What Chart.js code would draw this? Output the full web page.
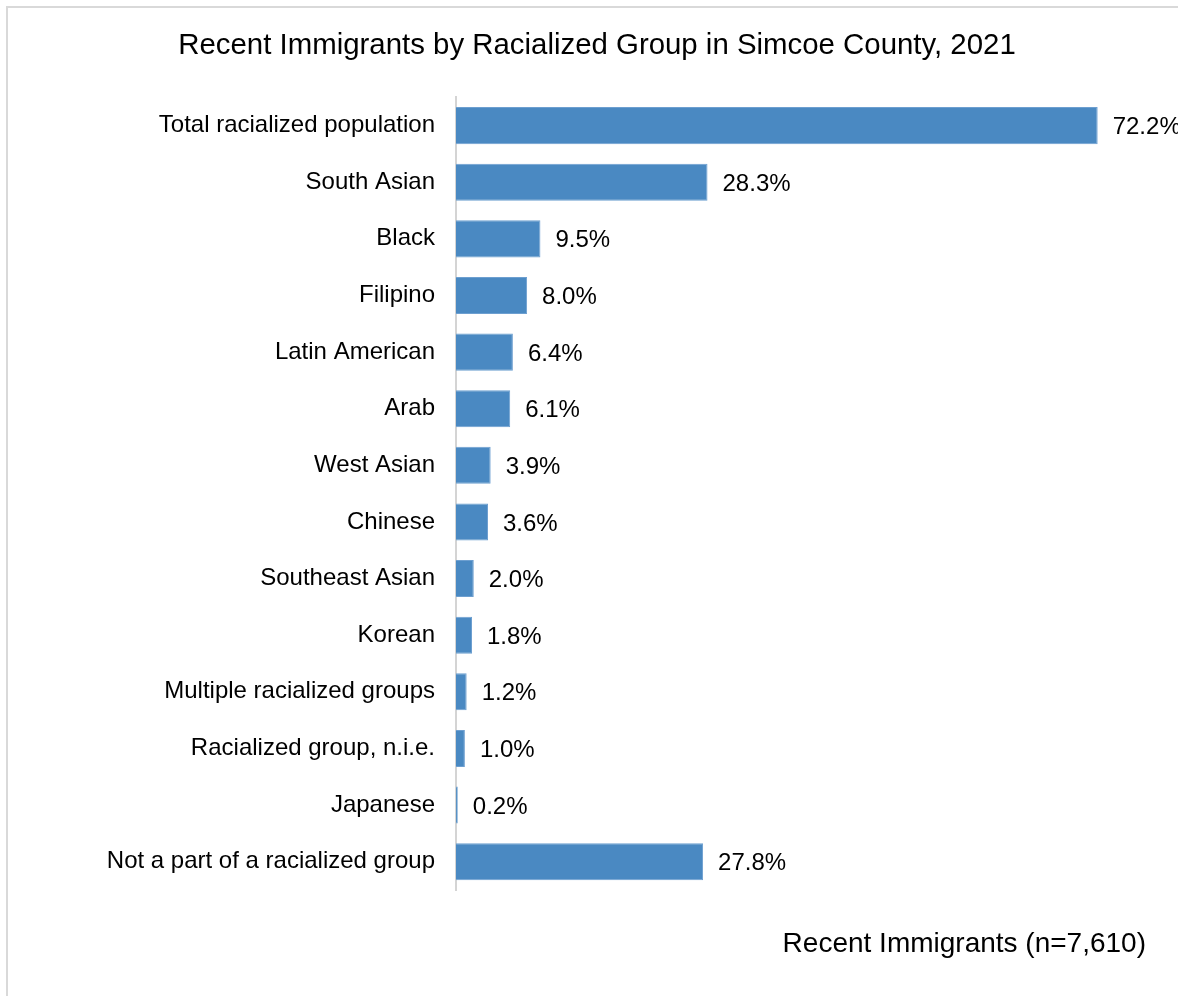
<!DOCTYPE html>
<html>
<head>
<meta charset="utf-8">
<title>Recent Immigrants by Racialized Group</title>
<script src="https://cdn.jsdelivr.net/npm/chart.js@4/dist/chart.umd.min.js"></script>
<style>
	html, body { margin: 0; padding: 0; background: #fff; overflow: hidden; }
	.chart-wrap { position: relative; width: 1178px; height: 996px; }
	.frame { position: absolute; left: 6px; top: 6px; width: 1300px; height: 1200px; border: 2px solid #d9d9d9; pointer-events: none; }
</style>
</head>
<body>
<div class="chart-wrap">
	<canvas id="myChart"></canvas>
	<div class="frame"></div>
</div>
<script>
const groups = [
	'Total racialized population',
	'South Asian',
	'Black',
	'Filipino',
	'Latin American',
	'Arab',
	'West Asian',
	'Chinese',
	'Southeast Asian',
	'Korean',
	'Multiple racialized groups',
	'Racialized group, n.i.e.',
	'Japanese',
	'Not a part of a racialized group',
];
const shares = [72.2, 28.3, 9.5, 8.0, 6.4, 6.1, 3.9, 3.6, 2.0, 1.8, 1.2, 1.0, 0.2, 27.8];
const seriesName = 'Recent Immigrants (n=7,610)';
const chartTitle = 'Recent Immigrants by Racialized Group in Simcoe County, 2021';

const fontFamily = "'Liberation Sans', Arial, sans-serif";

// value labels at the end of each bar
const barValues = {
	id: 'barValues',
	afterDatasetsDraw(chart) {
		const ctx = chart.ctx;
		const meta = chart.getDatasetMeta(0);
		ctx.save();
		ctx.font = `24px ${fontFamily}`;
		ctx.fillStyle = '#000';
		ctx.textAlign = 'left';
		ctx.textBaseline = 'middle';
		meta.data.forEach((bar, i) => {
			ctx.fillText(shares[i].toFixed(1) + '%', bar.x + 15, bar.y + 2);
		});
		ctx.restore();
	},
};

// series name under the plot, right side
const seriesCaption = {
	id: 'seriesCaption',
	afterDraw(chart) {
		const ctx = chart.ctx;
		ctx.save();
		ctx.font = `28px ${fontFamily}`;
		ctx.fillStyle = '#000';
		ctx.textAlign = 'right';
		ctx.textBaseline = 'middle';
		ctx.fillText(chart.data.datasets[0].label, 1146, 944);
		ctx.restore();
	},
};

const createChart = function () {
	const data = {
		labels: groups,
		datasets: [
			{
				label: seriesName,
				data: shares,
				backgroundColor: '#4a89c2',
				borderColor: '#6d9fd0',
				borderWidth: 1,
				categoryPercentage: 1,
				barPercentage: 0.655,
			},
		],
	};

	const config = {
		type: 'bar',
		data: data,
		options: {
			indexAxis: 'y',
			responsive: true,
			maintainAspectRatio: false,
			animation: false,
			layout: {
				padding: { left: 27, right: 11, top: 0, bottom: 106 },
			},
			scales: {
				x: {
					display: false,
					min: 0,
					max: 80,
				},
				y: {
					grid: { display: false, drawTicks: false },
					border: { display: true, color: '#d4d4d4', width: 2 },
					ticks: {
						padding: 21,
						color: '#000',
						font: { family: fontFamily, size: 24 },
					},
					afterFit(scale) {
						scale.width = 429;
					},
				},
			},
			plugins: {
				legend: { display: false },
				tooltip: { enabled: false },
				title: {
					display: true,
					text: chartTitle,
					color: '#000',
					font: { family: fontFamily, size: 29.4, weight: 'normal' },
					padding: { top: 28, bottom: 34 },
				},
			},
		},
		plugins: [barValues, seriesCaption],
	};

	const ctx = document.getElementById('myChart');
	const myChart = new Chart(ctx, config);
};

const init = function () {
	createChart();
};
document.addEventListener('DOMContentLoaded', init);
</script>
</body>
</html>
